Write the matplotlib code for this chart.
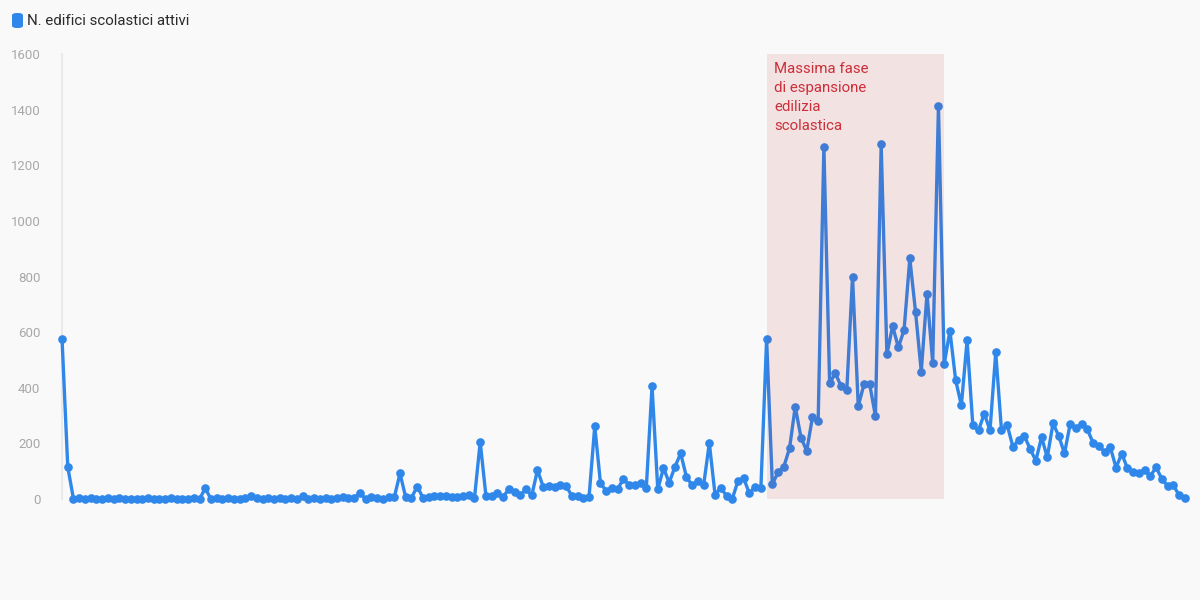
import matplotlib
matplotlib.use("Agg")
import matplotlib.pyplot as plt
from matplotlib.patches import FancyBboxPatch

# ---- data ----
years = list(range(1820, 2017))  # 197 categories (x positions)
seg_a = [575, 115, 0, 3, 0, 2, 0, 0, 3, 0, 2, 0, 0, 0, 0, 2, 0, 0, 0, 2, 0, 0, 0, 2, 0, 38]
seg_b = [0, 3, 0, 2, 0, 0, 2, 10, 5, 0, 2, 0, 3, 0, 2, 0, 10]
seg_c = [0, 2, 0, 5, 0, 2, 8, 3, 5, 22, 0]
seg_d = [8, 5, 1, 6, 6, 92, 6, 4, 45, 5, 8, 10, 10, 10, 6, 8, 10, 14, 3]
seg_e = [205, 12, 12, 20, 8, 35, 26, 14, 35, 13, 104]
seg_f = [44, 47, 44, 49, 47, 11, 12, 4, 7, 262, 56, 30, 41, 37, 71, 52, 50, 59, 40,
         406, 35, 111, 59, 116, 164, 80, 49, 65, 49, 201, 16, 41, 11, 0, 65, 74, 20,
         44, 38, 575, 53]
seg_g = [96, 116, 182, 332, 221, 173, 294, 282, 1267, 416, 452, 406, 392, 799, 334,
         412, 412, 298, 1275, 520, 622, 545, 608, 865, 673, 458, 738, 490, 1413, 484,
         605, 428, 337]
seg_h = [570, 265, 247, 307, 247, 527, 248, 266, 188, 212, 227, 180, 138, 222, 150,
         272, 227, 164, 270, 254, 271, 250, 202, 191, 170, 186, 113, 163, 110, 98, 95,
         104, 83, 114, 72, 47, 50, 14, 3]
edifici = seg_a + seg_b + seg_c + seg_d + seg_e + seg_f + seg_g + seg_h

band_start = 1943
band_end = 1974
series_label = "N. edifici scolastici attivi"
band_label = "Massima fase\ndi espansione\nedilizia\nscolastica"
y_ticks = [0, 200, 400, 600, 800, 1000, 1200, 1400, 1600]

# ---- style ----
BG = "#f9f9f9"
BLUE = "#2f87ea"
plt.rcParams["font.family"] = ["Roboto", "DejaVu Sans"]

fig = plt.figure(figsize=(12, 6), dpi=100, facecolor=BG)
ax = fig.add_axes([0.0517, 0.1683, 0.9356, 0.7417], facecolor=BG)

ax.plot(years, edifici, color=BLUE, lw=2.4, marker="o", ms=5.2,
        mec=BLUE, mfc=BLUE, zorder=3, clip_on=False, solid_joinstyle="round")
ax.axvspan(band_start, band_end, ymin=0, ymax=1, color="#c71d1d", alpha=0.1,
           lw=0, zorder=4)

ax.text(band_start + 1.35, 1572, band_label, color="#cc2f3a", fontsize=10.8,
        va="top", ha="left", linespacing=1.45, zorder=5)

ax.set_xlim(years[0], years[-1])
ax.set_ylim(0, 1600)
ax.set_yticks(y_ticks)
ax.set_yticklabels([str(t) for t in y_ticks])
ax.tick_params(axis="y", length=0, pad=15.5, labelsize=9.5, labelcolor="#a8a8a8")
ax.tick_params(axis="x", length=0, labelbottom=False)
for s in ["top", "right", "bottom"]:
    ax.spines[s].set_visible(False)
ax.spines["left"].set_color("#e6e6e6")
ax.spines["left"].set_linewidth(1.2)

# legend
fig.patches.append(FancyBboxPatch((12 / 1200, 1 - 28 / 600), 11 / 1200, 15 / 600,
                                  boxstyle="round,pad=0,rounding_size=0.004",
                                  transform=fig.transFigure, color=BLUE, lw=0))
fig.text(27 / 1200, 1 - 21 / 600, series_label, fontsize=10.8, color="#2b2b2b",
         va="center", ha="left")

fig.savefig("out.png", dpi=100, facecolor=BG)
